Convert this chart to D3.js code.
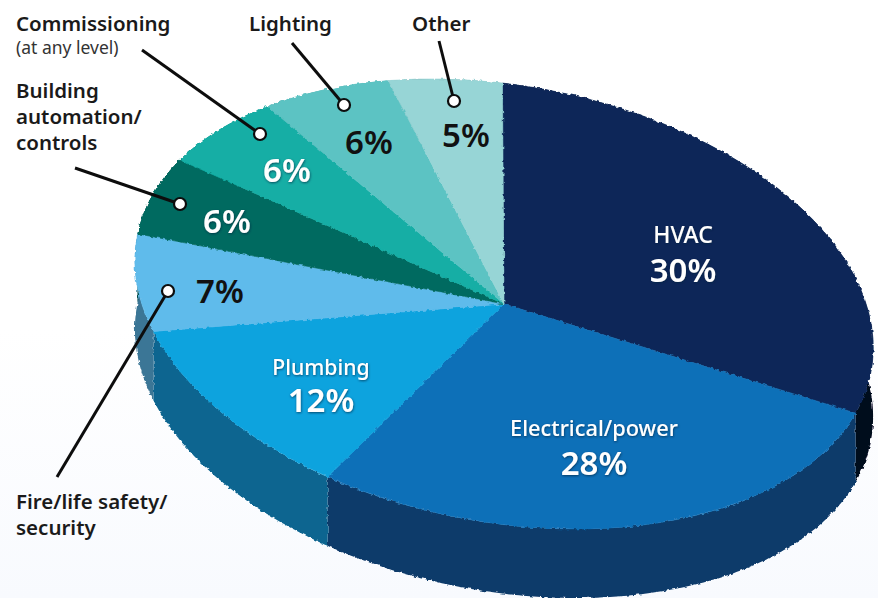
<!DOCTYPE html>
<html>
<head>
<meta charset="utf-8">
<style>
  html, body { margin: 0; padding: 0; background: #fff; }
  svg { display: block; }
  text { font-family: "Noto Sans", "Open Sans", sans-serif; }
</style>
</head>
<body>
<div id="chart"></div>
<script src="https://cdn.jsdelivr.net/npm/d3@7"></script>
<script>
// values
const categories = ['HVAC', 'Electrical/power', 'Plumbing', 'Fire/life safety/security',
    'Building automation/controls', 'Commissioning', 'Lighting', 'Other'];
const shares = [30, 28, 12, 7, 6, 6, 6, 5];

const faceColors = ['#0b2858', '#0a6fb8', '#0fa3de', '#5fbbeb', '#046a60', '#13aea5', '#5cc3c3', '#97d5d6'];
const sideColors = ['#05081e', '#0d3a6a', '#0a6590', '#3b7696', '#034a44', '#0c7a74', '#3f8989', '#6a9596'];

// percent labels: [x, y, fill]
const percentLayout = [
    [683, 282, '#fff'], [594, 475, '#fff'], [321, 412, '#fff'], [220, 303, '#111'],
    [227, 233, '#fff'], [287, 182, '#fff'], [369, 154, '#111'], [466, 147, '#111']
];
// names written inside the slice
const innerNames = [
    {i: 0, x: 683, y: 243, size: 23, text: 'HVAC'},
    {i: 1, x: 594, y: 436, size: 21.8, text: 'Electrical/power'},
    {i: 2, x: 321, y: 375, size: 21.2, text: 'Plumbing'}
];
// outside labels and leader lines
const outerLabels = [
    {lines: ['Commissioning'], x: 16, y: 31},
    {lines: ['Lighting'], x: 249, y: 31},
    {lines: ['Other'], x: 412, y: 31},
    {lines: ['Building', 'automation/', 'controls'], x: 16, y: 98},
    {lines: ['Fire/life safety/', 'security'], x: 16, y: 509}
];
const leaders = [
    [142, 50, 260, 134], [292, 43, 344, 105], [439, 41, 454, 101], [75, 168, 180, 204], [57, 477, 168, 291]
];

const width = 878;
const height = 598;
const depth = 69;
const startDeg = 11;
// the pie is a true circle sheared into the tilted ellipse
const tilt = {a: 362, c: 72, d: 225, e: 504, f: 304};

const svg = d3.select('#chart').append('svg')
    .attr('width', width)
    .attr('height', height);

const defs = svg.append('defs');
const bg = defs.append('linearGradient').attr('id', 'bg').attr('x1', 0).attr('x2', 0).attr('y1', 0).attr('y2', 1);
bg.append('stop').attr('offset', '55%').attr('stop-color', '#ffffff');
bg.append('stop').attr('offset', '100%').attr('stop-color', '#f8fafe');

const rough = defs.append('filter').attr('id', 'rough')
    .attr('x', '-2%').attr('y', '-2%').attr('width', '104%').attr('height', '104%');
rough.append('feTurbulence').attr('type', 'fractalNoise').attr('baseFrequency', 0.3).attr('numOctaves', 1).attr('seed', 4);
rough.append('feDisplacementMap').attr('in', 'SourceGraphic').attr('scale', 4)
    .attr('xChannelSelector', 'R').attr('yChannelSelector', 'G');

const glow = defs.append('filter').attr('id', 'glow')
    .attr('x', '-20%').attr('y', '-20%').attr('width', '140%').attr('height', '140%');
glow.append('feDropShadow').attr('dx', 0.5).attr('dy', 1).attr('stdDeviation', 1.2)
    .attr('flood-color', '#06203f').attr('flood-opacity', 0.7);

svg.append('rect').attr('width', width).attr('height', height).attr('fill', 'url(#bg)');

const slices = d3.pie().sort(null)
    .startAngle(startDeg * Math.PI / 180)
    .endAngle((startDeg + 360) * Math.PI / 180)(shares);

const project = (t) => [
    tilt.e + tilt.a * Math.sin(t) - tilt.c * Math.cos(t),
    tilt.f - tilt.d * Math.cos(t)
];

// 侧面
const sidePath = (d) => {
    const angles = d3.range(d.startAngle, d.endAngle, 0.01).concat(d.endAngle);
    const top = angles.map(project);
    const bottom = top.map((p) => [p[0], p[1] + depth]).reverse();
    return d3.line()(top.concat(bottom)) + 'Z';
};

svg.append('g').attr('filter', 'url(#rough)')
    .selectAll('path')
    .data(slices)
    .enter()
    .append('path')
    .attr('d', sidePath)
    .attr('fill', (d, i) => sideColors[i]);

// 顶面
const arc = d3.arc().innerRadius(0).outerRadius(1);
svg.append('g').attr('filter', 'url(#rough)')
    .append('g')
    .attr('transform', `matrix(${tilt.a} 0 ${tilt.c} ${tilt.d} ${tilt.e} ${tilt.f})`)
    .selectAll('path')
    .data(slices)
    .enter()
    .append('path')
    .attr('d', arc)
    .attr('fill', (d, i) => faceColors[i])
    .attr('stroke', (d, i) => faceColors[i])
    .attr('stroke-width', 0.002);

// percent labels
svg.append('g').selectAll('text')
    .data(shares)
    .enter()
    .append('text')
    .attr('x', (d, i) => percentLayout[i][0])
    .attr('y', (d, i) => percentLayout[i][1])
    .attr('text-anchor', 'middle')
    .attr('font-size', 33)
    .attr('font-weight', 600)
    .attr('fill', (d, i) => percentLayout[i][2])
    .attr('filter', (d, i) => percentLayout[i][2] === '#fff' ? 'url(#glow)' : null)
    .text((d) => d + '%');

svg.append('g').selectAll('text')
    .data(innerNames)
    .enter()
    .append('text')
    .attr('x', (d) => d.x)
    .attr('y', (d) => d.y)
    .attr('text-anchor', 'middle')
    .attr('font-size', (d) => d.size)
    .attr('font-weight', 500)
    .attr('fill', '#fff')
    .attr('filter', 'url(#glow)')
    .text((d) => d.text);

// leader lines
const leader = svg.append('g');
leader.selectAll('line')
    .data(leaders)
    .enter()
    .append('line')
    .attr('x1', (d) => d[0])
    .attr('y1', (d) => d[1])
    .attr('x2', (d) => d[2])
    .attr('y2', (d) => d[3])
    .attr('stroke', '#0d0d0d')
    .attr('stroke-width', 3);
leader.selectAll('circle')
    .data(leaders)
    .enter()
    .append('circle')
    .attr('cx', (d) => d[2])
    .attr('cy', (d) => d[3])
    .attr('r', 6)
    .attr('fill', '#fff')
    .attr('stroke', '#0d0d0d')
    .attr('stroke-width', 2.2);

// outside labels
outerLabels.forEach((item) => {
    const text = svg.append('text')
        .attr('font-size', 20.5)
        .attr('font-weight', 600)
        .attr('fill', '#1a1a1a');
    text.selectAll('tspan')
        .data(item.lines)
        .enter()
        .append('tspan')
        .attr('x', item.x)
        .attr('y', (d, i) => item.y + i * 26)
        .text((d) => d);
});

svg.append('text')
    .attr('x', 16)
    .attr('y', 54)
    .attr('font-size', 17.5)
    .attr('fill', '#333')
    .text('(at any level)');
</script>
</body>
</html>
